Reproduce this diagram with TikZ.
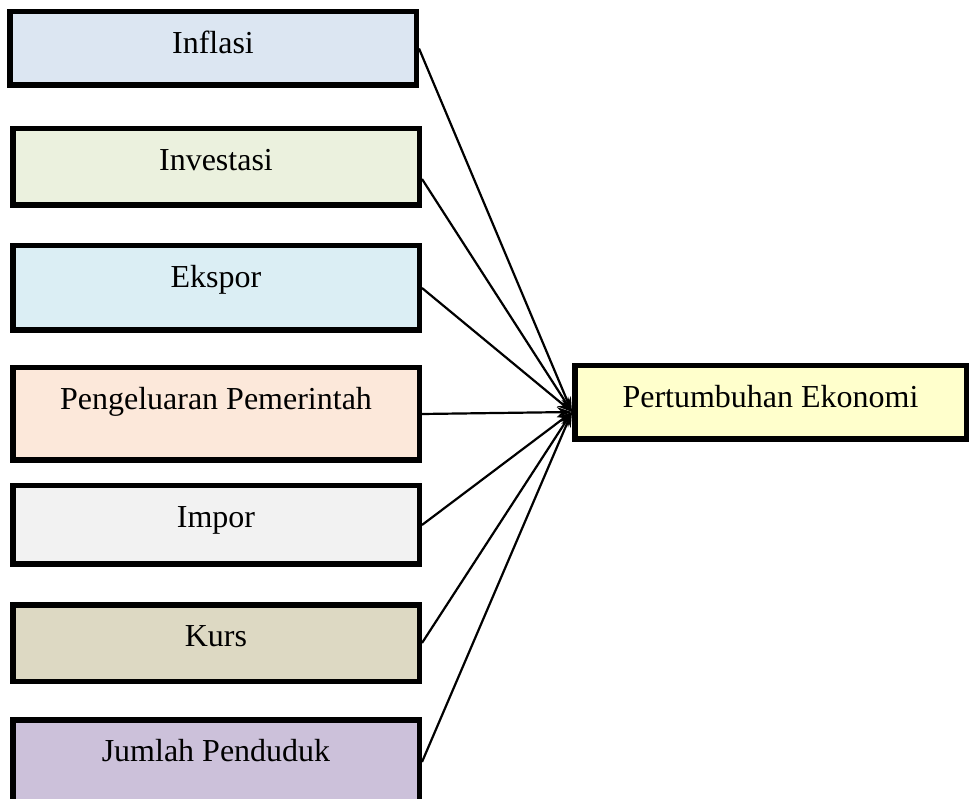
\documentclass[tikz,border=0pt]{standalone}
\usepackage{fontspec}
\setmainfont{Liberation Serif}
\usetikzlibrary{positioning,arrows.meta}

\definecolor{cinflasi}{HTML}{DCE6F2}
\definecolor{cinvestasi}{HTML}{EBF1DE}
\definecolor{cekspor}{HTML}{DBEEF4}
\definecolor{cbelanja}{HTML}{FCE8DA}
\definecolor{cimpor}{HTML}{F2F2F2}
\definecolor{ckurs}{HTML}{DDD9C3}
\definecolor{cpenduduk}{HTML}{CCC1DA}
\definecolor{cekonomi}{HTML}{FFFFCC}

\begin{document}
\begin{tikzpicture}[x=1pt,y=1pt]

% definitions
\tikzstyle{factor} = [rectangle, draw=black, line width=5.5pt, minimum width=406.5pt, inner sep=0pt, text height=41.75pt, text centered, font=\fontsize{32}{38}\selectfont]

\tikzstyle{result} = [factor, minimum width=391.5pt, fill=cekonomi]

\tikzstyle{arrow} = [-{Stealth[length=15pt,width=10pt]}, line width=2.2pt]

\useasboundingbox (0,0) rectangle (970,-799);

% the graph
\node (x1) [factor, fill=cinflasi, text depth=31.75pt, anchor=north west] at (7,-9) {Inflasi};

\node (x2) [factor, fill=cinvestasi, text depth=34.75pt, below=38pt of x1, xshift=3pt] {Investasi};

\node (x3) [factor, fill=cekspor, text depth=42.75pt, below=35pt of x2] {Ekspor};

\node (x4) [factor, fill=cbelanja, text depth=50.75pt, below=32pt of x3] {Pengeluaran Pemerintah};

\node (x5) [factor, fill=cimpor, text depth=36.75pt, below=20pt of x4] {Impor};

\node (x6) [factor, fill=ckurs, text depth=34.75pt, below=35pt of x5] {Kurs};

\node (x7) [factor, fill=cpenduduk, text depth=42.75pt, below=33pt of x6] {Jumlah Penduduk};

\node (y) [result, text depth=31.75pt, anchor=north west] at (572,-363) {Pertumbuhan Ekonomi};

\coordinate (hub) at ([yshift=-9.5pt]y.west);

\draw [arrow] (x1.east) -- (hub);
\draw [arrow] ([yshift=-12pt]x2.east) -- (hub);
\draw [arrow] (x3.east) -- (hub);
\draw [arrow] (x4.east) -- (hub);
\draw [arrow] (x5.east) -- (hub);
\draw [arrow] (x6.east) -- (hub);
\draw [arrow] (x7.east) -- (hub);

\end{tikzpicture}
\end{document}
